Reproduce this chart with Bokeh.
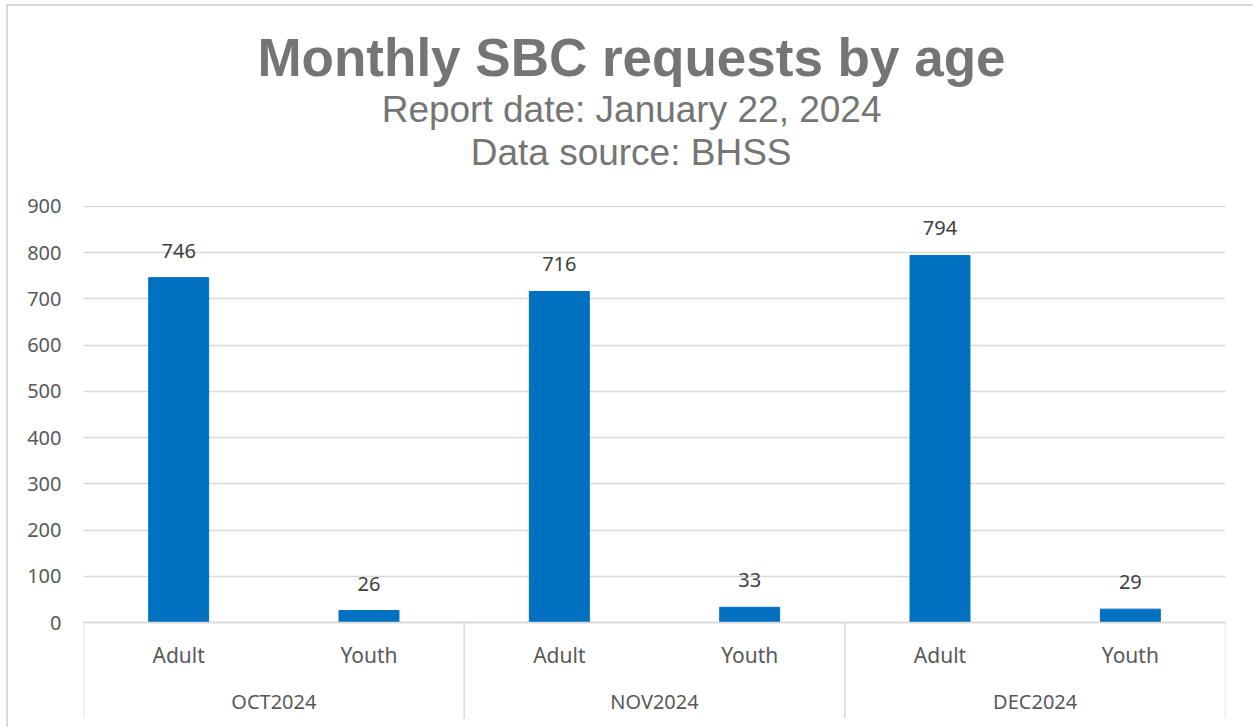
from bokeh.plotting import figure
from bokeh.models import FactorRange, Range1d, Title, ColumnDataSource, FixedTicker, Span
from bokeh.embed import file_html
from bokeh.resources import INLINE
from bokeh.core.properties import value

# ---- data ----
months = ["OCT2024", "NOV2024", "DEC2024"]
ages = ["Adult", "Youth"]
adult = [746, 716, 794]
youth = [26, 33, 29]
y_ticks = [0, 100, 200, 300, 400, 500, 600, 700, 800, 900]
title_text = "Monthly SBC requests by age"
subtitle1 = "Report date: January 22, 2024"
subtitle2 = "Data source: BHSS"

factors = [(m, a) for m in months for a in ages]
counts = []
for i in range(len(months)):
    counts += [adult[i], youth[i]]

src = ColumnDataSource(dict(x=factors, counts=counts,
                            lbl=[str(c) for c in counts],
                            age=[f[1] for f in factors],
                            zero=[0] * len(factors)))

W, H = 1253, 727
Y_BOTTOM = -227
Y_TOP = 902
p = figure(width=W, height=H, title=None,
           x_range=FactorRange(*factors, factor_padding=0, group_padding=0,
                               subgroup_padding=0, range_padding=0),
           y_range=Range1d(Y_BOTTOM, Y_TOP),
           output_backend="svg", toolbar_location=None,
           x_axis_location=None,
           min_border_left=83, min_border_right=28,
           min_border_bottom=0, min_border_top=205)

p.outline_line_color = None
p.background_fill_color = "white"
p.border_fill_color = None

TICK_FONT = "Noto Sans"
p.yaxis.ticker = FixedTicker(ticks=y_ticks)
p.yaxis.axis_line_color = None
p.yaxis.major_tick_line_color = None
p.yaxis.minor_tick_line_color = None
p.yaxis.major_label_standoff = 16
p.yaxis.major_label_text_font = TICK_FONT
p.yaxis.major_label_text_font_size = "20px"
p.yaxis.major_label_text_color = "#595959"
p.ygrid.grid_line_color = "#d9d9d9"
p.ygrid.grid_line_width = 1.5
p.xgrid.grid_line_color = None

# bars
p.vbar(x="x", top="counts", width=0.315, source=src,
       fill_color="#0070C0", line_color="#0070C0")

# data labels
p.text(x="x", y="counts", text="lbl", source=src, y_offset=-27,
       text_align="center", text_baseline="middle",
       text_font=value(TICK_FONT), text_font_size="20px", text_color="#404040")

# category axis drawn below zero
p.add_layout(Span(location=0, dimension="width", line_color="#d9d9d9", line_width=1.5))
sep_x = [(m, ages[0], -0.5) for m in months] + [(months[-1], ages[-1], 0.5)]
sep_src = ColumnDataSource(dict(x=sep_x, y0=[0] * len(sep_x), y1=[Y_BOTTOM + 20] * len(sep_x)))
p.segment(x0="x", x1="x", y0="y0", y1="y1", source=sep_src,
          line_color="#d9d9d9", line_width=1.5)

p.text(x="x", y="zero", text="age", source=src, y_offset=32,
       text_align="center", text_baseline="middle",
       text_font=value(TICK_FONT), text_font_size="21px", text_color="#595959")
p.text(x=months, y=[0] * len(months), text=months, y_offset=79,
       text_align="center", text_baseline="middle",
       text_font=value(TICK_FONT), text_font_size="20px", text_color="#595959")

# titles (first added = closest to the frame); right-aligned with offsets so
# that they are centred on the whole chart rather than on the plot frame
TCOL = "#757575"
spacer = Title(text=" ", align="right", standoff=29, text_font_size="2px",
               text_color="white")
t3 = Title(text=subtitle2, align="right", offset=434, standoff=0,
           text_font="Liberation Sans", text_font_size="37px",
           text_font_style="normal", text_color=TCOL)
t2 = Title(text=subtitle1, align="right", offset=344, standoff=0,
           text_font="Liberation Sans", text_font_size="37px",
           text_font_style="normal", text_color=TCOL)
t1 = Title(text=title_text, align="right", offset=220, standoff=0,
           text_font="Liberation Sans", text_font_size="53px",
           text_font_style="bold", text_color=TCOL)
p.add_layout(spacer, "above")
p.add_layout(t3, "above")
p.add_layout(t2, "above")
p.add_layout(t1, "above")

p.styles = {
    "background": "linear-gradient(#d9d9d9,#d9d9d9) 6px 4px / 100% 2px no-repeat, "
                  "linear-gradient(#d9d9d9,#d9d9d9) 6px 4px / 2px 100% no-repeat, white"
}

open("out.html", "w").write(file_html(p, INLINE))
